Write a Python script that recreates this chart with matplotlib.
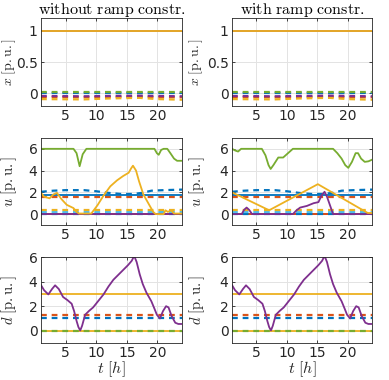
import numpy as np
import matplotlib
matplotlib.use("Agg")
import matplotlib.pyplot as plt

plt.rcParams['mathtext.fontset'] = 'cm'
plt.rcParams['font.family'] = 'DejaVu Sans'

# MATLAB default colours
C_BLUE = '#0072BD'
C_RED = '#D95319'
C_YEL = '#EDB120'
C_PUR = '#7E2F8E'
C_GRN = '#77AC30'
C_CYAN = '#4DBEEE'
C_DRED = '#A2142F'

T0, T1 = 1, 24
t_flat = [1, 24]

# ---- state x ----
x_one = [1.0, 1.0]
x_pur_solid = [0.99, 0.99]
x_grn = [0.02, 0.02]
x_blue = [0.0, 0.0]
x_pur_t = [1, 8, 12, 17, 20, 24]
x_pur = [-0.04, -0.045, -0.04, -0.035, -0.04, -0.045]
x_red = [-0.055, -0.06, -0.055, -0.05, -0.06, -0.06]
x_yel = [-0.09, -0.095, -0.08, -0.07, -0.09, -0.1]

# ---- input u, without ramp constraint ----
u_grn_t_a = [1, 6.3, 6.8, 7.3, 7.8, 8.4, 19.5, 19.9, 20.2, 20.6, 21.0, 21.6, 22.1, 22.7, 23.2, 24]
u_grn_a = [6.0, 6.0, 5.6, 4.4, 5.5, 6.0, 6.0, 5.6, 5.45, 5.9, 6.0, 6.0, 5.6, 5.1, 4.9, 4.9]
u_yel_t_a = [1, 1.5, 2.4, 3.0, 3.6, 4.3, 5.2, 6.3, 6.7, 7.2, 9.2, 10.2, 11.2, 12.3, 13.4, 14.4, 15.3, 15.7, 16.0, 16.5,
             17.0, 17.7, 18.5, 19.3, 19.7, 21.0, 21.3, 21.7, 22.2, 22.7, 24]
u_yel_a = [1.95, 1.6, 1.45, 1.8, 1.95, 1.4, 0.85, 0.55, 0.25, 0.05, 0.05, 0.8, 1.7, 2.55, 3.1, 3.5, 3.8, 4.2, 4.45, 4.0,
           3.0, 1.8, 1.0, 0.2, 0.0, 0.0, 0.35, 0.2, 0.35, 0.05, 0.05]

# ---- input u, with ramp constraint ----
u_grn_t_b = [1, 1.5, 2.0, 2.5, 5.9, 6.5, 7.0, 7.35, 7.8, 8.6, 9.4, 10.2, 11.0, 17.6, 18.3, 19.0, 19.6, 20.1, 20.7,
             21.3, 21.7, 22.2, 22.8, 23.4, 24]
u_grn_b = [6.0, 5.85, 5.75, 6.0, 6.0, 5.4, 4.5, 4.15, 4.5, 5.2, 5.2, 5.6, 6.0, 6.0, 5.6, 5.1, 4.5, 4.25, 4.8,
           5.6, 5.6, 5.1, 4.8, 4.85, 5.0]
u_yel_t_b = [1, 7.1, 15.1, 23.3, 24]
u_yel_b = [2.0, 0.35, 2.75, 0.1, 0.1]
u_pur_t_b = [1, 2.6, 3.0, 3.4, 3.8, 4.3, 11.0, 11.6, 12.2, 13.3, 14.4, 15.2, 15.7, 16.2, 16.6, 17.6, 24]
u_pur_b = [0.0, 0.0, 0.4, 0.6, 0.4, 0.0, 0.0, 0.35, 0.6, 0.75, 1.0, 1.1, 1.7, 2.05, 1.6, 0.0, 0.0]

# ---- dashed / constant lines in u (same in both) ----
u_blue_t = [1, 3, 5, 8, 10, 12, 14, 16, 17.5, 19, 21, 24]
u_blue = [2.05, 2.15, 2.2, 2.2, 2.1, 1.95, 1.85, 1.85, 1.95, 2.15, 2.2, 2.25]
u_cyan_solid = [1.75, 1.75]
u_red_dash = [1.55, 1.55]
u_yel_dash = [0.35, 0.35]
u_cyan_dash = [0.15, 0.15]
u_blue_dash0 = [0.05, 0.05]
u_zero = [0.0, 0.0]

# ---- disturbance d (same in both) ----
d_t = [1, 1.5, 2.2, 2.8, 3.3, 3.9, 4.6, 5.3, 6.0, 6.4, 6.8, 7.1, 7.4, 7.7, 8.2, 8.8, 9.5, 10.3, 11.2, 12.0, 12.8,
       13.6, 14.4, 15.2, 15.8, 16.2, 16.6, 17.1, 17.6, 18.2, 19.0, 19.5, 19.9, 20.4, 20.9, 21.4, 21.8, 22.3, 22.9, 23.4, 24]
d_pur = [3.72, 3.3, 2.96, 3.4, 3.7, 3.4, 2.75, 2.5, 2.2, 1.6, 0.8, 0.3, 0.02, 0.4, 1.3, 1.6, 1.9, 2.4, 2.96, 3.6, 4.15,
         4.55, 4.95, 5.35, 5.7, 6.1, 5.6, 4.6, 3.8, 3.1, 2.4, 1.8, 1.3, 1.0, 1.6, 2.0, 1.9, 1.2, 0.65, 0.55, 0.55]
d_yel = [3.0, 3.0]
d_red = [1.3, 1.3]
d_blue = [1.0, 1.0]
d_zero = [0.0, 0.0]

LW = 1.3
DASH = (2.6, 2.2)

fig = plt.figure(figsize=(3.89, 3.8), dpi=100)

cols = [(0.1054, 0.3625), (0.5964, 0.36)]
rows = [(0.721, 0.2316), (0.408, 0.229), (0.0974, 0.226)]


def style(ax, ylim, yticks, ylabel, label_x, xlabel=False, lsize=10.5):
    ax.set_xlim(T0, T1)
    ax.set_ylim(*ylim)
    ax.set_xticks([5, 10, 15, 20])
    ax.set_yticks(yticks)
    ax.grid(True, color='#e3e3e3', linewidth=0.7)
    ax.set_axisbelow(True)
    ax.tick_params(direction='in', length=2.5, width=0.6, colors='#262626', labelsize=10, pad=2.5,
                   top=True, right=True)
    for s in ax.spines.values():
        s.set_color('#262626')
        s.set_linewidth(0.6)
    ax.set_ylabel(ylabel, fontsize=lsize, color='#262626')
    ax.yaxis.set_label_coords(label_x, 0.5)
    if xlabel:
        ax.set_xlabel(r'$t\ [h]$', fontsize=11.5, color='#262626', labelpad=-1)


def dash(ax, t, y, c):
    ax.plot(t, y, color=c, lw=LW + 0.3, dashes=DASH)


for j, (x0, w) in enumerate(cols):
    lx_top = -0.165 if j == 0 else -0.19
    lx = -0.155 if j == 0 else -0.175
    # x
    ax = fig.add_axes([x0, rows[0][0], w, rows[0][1]])
    ax.plot(t_flat, x_pur_solid, color=C_PUR, lw=LW)
    ax.plot(t_flat, x_one, color=C_YEL, lw=LW)
    dash(ax, t_flat, x_blue, C_BLUE)
    dash(ax, t_flat, x_grn, C_GRN)
    dash(ax, x_pur_t, x_red, C_RED)
    dash(ax, x_pur_t, x_yel, C_YEL)
    dash(ax, x_pur_t, x_pur, C_PUR)
    style(ax, (-0.2, 1.2), [0, 0.5, 1], r'$x\ [\mathrm{p.u.}]$', lx_top, lsize=10)
    ax.set_yticklabels(['0', '0.5', '1'])
    ax.set_title(r'$\mathrm{without\ ramp\ constr.}$' if j == 0 else r'$\mathrm{with\ ramp\ constr.}$',
                 fontsize=11.5, pad=3)

    # u
    ax = fig.add_axes([x0, rows[1][0], w, rows[1][1]])
    ax.plot(t_flat, u_zero, color=C_DRED, lw=LW)
    ax.plot(t_flat, u_zero, color=C_RED, lw=LW)
    dash(ax, t_flat, u_blue_dash0, C_BLUE)
    dash(ax, t_flat, u_cyan_dash, C_CYAN)
    dash(ax, t_flat, u_yel_dash, C_YEL)
    dash(ax, t_flat, u_red_dash, C_RED)
    ax.plot(t_flat, u_cyan_solid, color=C_BLUE, lw=LW)
    dash(ax, u_blue_t, u_blue, C_BLUE)
    if j == 0:
        ax.plot(t_flat, u_zero, color=C_PUR, lw=LW)
        ax.plot(u_yel_t_a, u_yel_a, color=C_YEL, lw=LW)
        ax.plot(u_grn_t_a, u_grn_a, color=C_GRN, lw=LW)
    else:
        ax.plot(u_pur_t_b, u_pur_b, color=C_PUR, lw=LW)
        ax.plot(u_yel_t_b, u_yel_b, color=C_YEL, lw=LW)
        ax.plot(u_grn_t_b, u_grn_b, color=C_GRN, lw=LW)
    style(ax, (-1, 7), [0, 2, 4, 6], r'$u\ [\mathrm{p.u.}]$', lx)

    # d
    ax = fig.add_axes([x0, rows[2][0], w, rows[2][1]])
    ax.plot(t_flat, d_zero, color=C_YEL, lw=LW)
    dash(ax, t_flat, d_zero, C_GRN)
    dash(ax, t_flat, d_blue, C_BLUE)
    dash(ax, t_flat, d_red, C_RED)
    ax.plot(t_flat, d_yel, color=C_YEL, lw=LW)
    ax.plot(d_t, d_pur, color=C_PUR, lw=LW)
    style(ax, (-1, 6), [0, 2, 4, 6], r'$d\ [\mathrm{p.u.}]$', lx, xlabel=True)

fig.savefig('out.png', dpi=100)
